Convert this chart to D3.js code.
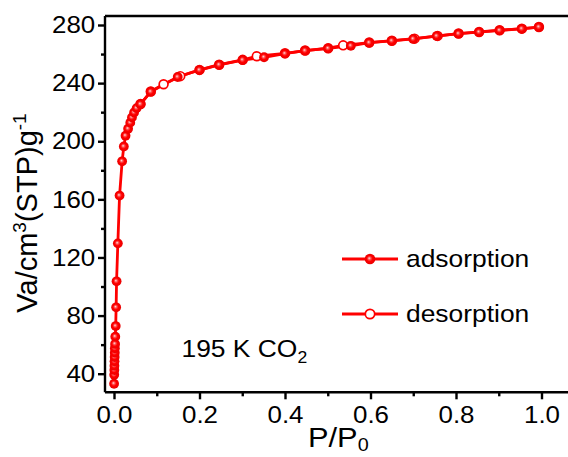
<!DOCTYPE html>
<html>
<head>
<meta charset="utf-8">
<script src="https://cdn.jsdelivr.net/npm/d3@7"></script>
<style>
  body { margin: 0; background: #fff; }
  svg { display: block; font-family: "Liberation Sans", Arial, sans-serif; }
  .axis path, .axis line { stroke: #000; stroke-width: 2.4px; }
  .axis text { fill: #000; font-size: 24px; }
</style>
</head>
<body>
<svg id="chart" width="568" height="457"></svg>
<script>
// adsorption branch, P/P0 and Va (cm3(STP)/g)
var adsP = [0.0002, 0.0005, 0.0008, 0.001, 0.0012, 0.0015, 0.0018, 0.002, 0.0025, 0.003, 0.004, 0.005, 0.006, 0.009,
  0.013, 0.019, 0.023, 0.027, 0.033, 0.038, 0.042, 0.047, 0.053, 0.062, 0.086, 0.149, 0.2, 0.246, 0.301, 0.351,
  0.4, 0.447, 0.501, 0.554, 0.597, 0.65, 0.70, 0.755, 0.806, 0.854, 0.902, 0.954, 0.994];
var adsV = [33.1, 39.3, 42.5, 45.5, 48.5, 51.5, 54.5, 57.5, 60.5, 65.5, 72.8, 85.7, 103.6, 129.7,
  162.6, 186.2, 196.4, 203.8, 208.6, 212.8, 216.4, 219.8, 222.8, 225.5, 234.1, 244.2, 249.0, 252.6, 255.9, 257.8,
  260.3, 262.3, 263.9, 265.7, 267.8, 269.1, 270.4, 272.4, 274.0, 275.1, 276.3, 277.4, 278.6];

// desorption branch
var desP = [0.994, 0.954, 0.902, 0.854, 0.806, 0.757, 0.703, 0.65, 0.597, 0.536, 0.501, 0.447, 0.40, 0.334,
  0.301, 0.246, 0.20, 0.155, 0.116, 0.086, 0.062];
var desV = [278.6, 277.5, 276.4, 275.2, 274.1, 272.5, 270.6, 269.2, 267.9, 266.0, 264.0, 262.4, 260.5, 258.5,
  256.0, 252.7, 249.1, 244.8, 239.2, 234.2, 225.6];

var xTicks = [0, 0.2, 0.4, 0.6, 0.8, 1.0];
var xMinor = [0.1, 0.3, 0.5, 0.7, 0.9];
var yTicks = [40, 80, 120, 160, 200, 240, 280];
var yMinor = [60, 100, 140, 180, 220, 260];
var seriesNames = ["adsorption", "desorption"];

var svg = d3.select("#chart");
// frame edges (the right side runs off the picture)
var frameL = 105, frameT = 16, frameB = 392.3, frameR = 568;

var x = d3.scaleLinear().domain([0, 1]).range([114, 541.5]);
var y = d3.scaleLinear().domain([40, 280]).range([373.7, 25]);

var ads = adsP.map(function(p, i) { return [p, adsV[i]]; });
var des = desP.map(function(p, i) { return [p, desV[i]]; });

// ball marker gradient
var defs = svg.append("defs");
var grad = defs.append("radialGradient").attr("id", "ball")
  .attr("cx", "0.5").attr("cy", "0.5").attr("r", "0.5").attr("fx", "0.42").attr("fy", "0.42");
grad.append("stop").attr("offset", "0%").attr("stop-color", "#ffe0e0");
grad.append("stop").attr("offset", "28%").attr("stop-color", "#ff5050");
grad.append("stop").attr("offset", "55%").attr("stop-color", "#ff0000");
grad.append("stop").attr("offset", "100%").attr("stop-color", "#e80000");

// frame top
svg.append("line").attr("x1", frameL).attr("x2", frameR).attr("y1", frameT).attr("y2", frameT)
  .attr("stroke", "#000").attr("stroke-width", 2.4);

var xAxis = svg.append("g").attr("class", "axis")
  .attr("transform", "translate(0," + frameB + ")")
  .call(d3.axisBottom(x).tickValues(xTicks).tickSize(7).tickPadding(7).tickSizeOuter(0)
    .tickFormat(d3.format(".1f")));
xAxis.select(".domain").attr("d", "M" + frameL + ",0H" + frameR);
xAxis.selectAll("text").attr("transform", "scale(1.08,1)");
svg.append("g").attr("class", "axis")
  .attr("transform", "translate(0," + frameB + ")")
  .call(d3.axisBottom(x).tickValues(xMinor).tickSize(4).tickFormat(""))
  .select(".domain").remove();

var yAxis = svg.append("g").attr("class", "axis")
  .attr("transform", "translate(" + frameL + ",0)")
  .call(d3.axisLeft(y).tickValues(yTicks).tickSize(7).tickPadding(2).tickSizeOuter(0));
yAxis.select(".domain").attr("d", "M0," + frameT + "V" + frameB);
yAxis.selectAll("text").attr("transform", "scale(1.08,1)");
svg.append("g").attr("class", "axis")
  .attr("transform", "translate(" + frameL + ",0)")
  .call(d3.axisLeft(y).tickValues(yMinor).tickSize(4).tickFormat(""))
  .select(".domain").remove();

// curves
var line = d3.line().x(function(d) { return x(d[0]); }).y(function(d) { return y(d[1]); });

svg.append("path").datum(ads).attr("d", line)
  .attr("fill", "none").attr("stroke", "#ff0000").attr("stroke-width", 2.8).attr("stroke-linejoin", "round");
svg.append("path").datum(des).attr("d", line)
  .attr("fill", "none").attr("stroke", "#ff0000").attr("stroke-width", 2.8).attr("stroke-linejoin", "round");

svg.append("g").selectAll("circle").data(des).enter().append("circle")
  .attr("cx", function(d) { return x(d[0]); })
  .attr("cy", function(d) { return y(d[1]); })
  .attr("r", 4.4).attr("fill", "#fff").attr("stroke", "#ff0000").attr("stroke-width", 1.7);

svg.append("g").selectAll("circle").data(ads).enter().append("circle")
  .attr("cx", function(d) { return x(d[0]); })
  .attr("cy", function(d) { return y(d[1]); })
  .attr("r", 4.9).attr("fill", "url(#ball)");

// legend
var legendY = [259, 314];
seriesNames.forEach(function(name, i) {
  var g = svg.append("g").attr("transform", "translate(0," + legendY[i] + ")");
  g.append("line").attr("x1", 342).attr("x2", 398).attr("y1", 0).attr("y2", 0)
    .attr("stroke", "#ff0000").attr("stroke-width", 2.8);
  if (i === 0) {
    g.append("circle").attr("cx", 370).attr("cy", 0).attr("r", 5.3).attr("fill", "url(#ball)");
  } else {
    g.append("circle").attr("cx", 370).attr("cy", 0).attr("r", 4.7)
      .attr("fill", "#fff").attr("stroke", "#ff0000").attr("stroke-width", 1.7);
  }
  g.append("text").attr("transform", "translate(406,8) scale(1.1,1)")
    .attr("font-size", 24).text(name);
});

// annotation
var note = svg.append("text").attr("transform", "translate(181.5,357) scale(1.1,1)").attr("font-size", 24);
note.append("tspan").text("195 K CO");
note.append("tspan").attr("font-size", 16).attr("dy", 6).text("2");

// axis titles
var xt = svg.append("text").attr("transform", "translate(308,447) scale(1.1,1)").attr("font-size", 28);
xt.append("tspan").text("P/P");
xt.append("tspan").attr("font-size", 18).attr("dy", 4).text("0");

var yt = svg.append("text").attr("transform", "translate(37,213) rotate(-90)")
  .attr("text-anchor", "middle").attr("font-size", 29);
yt.append("tspan").text("Va/cm");
yt.append("tspan").attr("font-size", 19).attr("dy", -11).text("3");
yt.append("tspan").attr("dy", 11).text("(STP)g");
yt.append("tspan").attr("font-size", 19).attr("dy", -11).text("-1");
</script>
</body>
</html>
